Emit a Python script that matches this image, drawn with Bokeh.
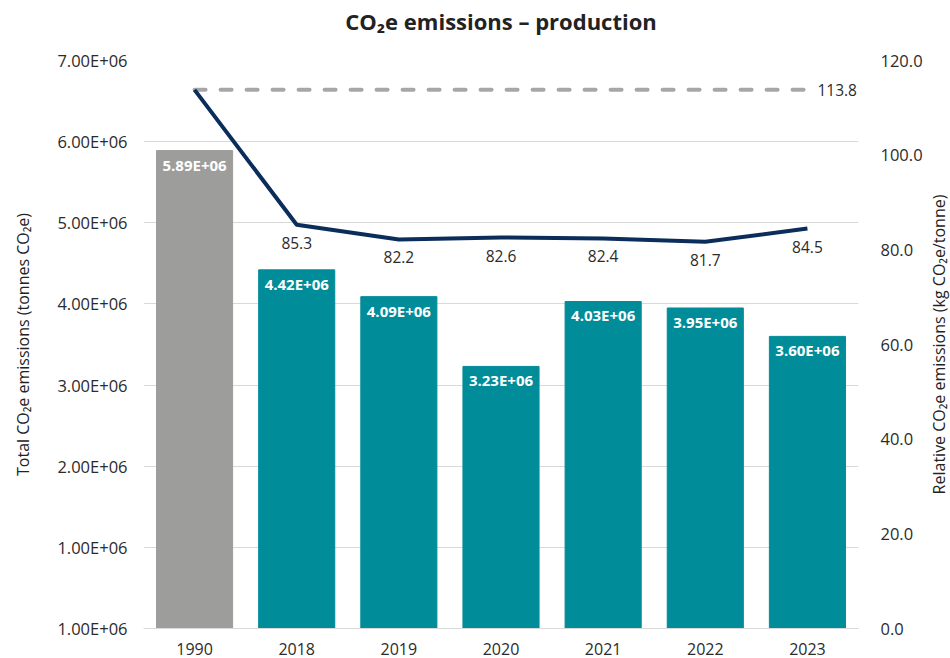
import math
from bokeh.plotting import figure
from bokeh.layouts import row, column
from bokeh.models import (Range1d, LinearAxis, FixedTicker, ColumnDataSource,
                          FactorRange, NumeralTickFormatter)
from bokeh.core.properties import value
from bokeh.embed import file_html
from bokeh.resources import INLINE

years = ["1990", "2018", "2019", "2020", "2021", "2022", "2023"]
total_emissions = [5.89e6, 4.42e6, 4.09e6, 3.23e6, 4.03e6, 3.95e6, 3.60e6]
relative_emissions = [113.8, 85.3, 82.2, 82.6, 82.4, 81.7, 84.5]
baseline_1990 = 113.8
left_ticks = [0, 1e6, 2e6, 3e6, 4e6, 5e6, 6e6, 7e6]
left_tick_labels = ["1.00E+06", "1.00E+06", "2.00E+06", "3.00E+06", "4.00E+06",
                    "5.00E+06", "6.00E+06", "7.00E+06"]
right_ticks = [0, 20, 40, 60, 80, 100, 120]
chart_title = "CO\u2082e emissions \u2013 production"
left_axis_title = "Total CO\u2082e emissions (tonnes CO\u2082e)"
right_axis_title = "Relative CO\u2082e emissions (kg CO\u2082e/tonne)"

FONT = "Open Sans"
TEAL = "#008C99"
GREY = "#9D9D9C"
NAVY = "#0A2D5A"
TXT = "#2b2b2b"

W, H = 950, 658
TITLE_H = 40
SIDE_W = 24
BORDER_L, BORDER_R = 143, 92
BORDER_T, BORDER_B = 20, 30

bar_colors = [GREY] + [TEAL] * (len(years) - 1)
bar_src = ColumnDataSource(dict(
    x=years, top=total_emissions, color=bar_colors,
    label=[f"{v:.2E}" for v in total_emissions]))
line_src = ColumnDataSource(dict(x=years, y=relative_emissions))
line_lbl_src = ColumnDataSource(dict(
    x=years[1:], y=relative_emissions[1:],
    label=[f"{v:.1f}" for v in relative_emissions[1:]]))

# title strip, its frame aligned with the plot area so the title is centred over it
top = figure(width=W, height=TITLE_H, x_range=Range1d(0, 1), y_range=Range1d(0, 1),
             output_backend="svg", toolbar_location=None,
             min_border_left=BORDER_L, min_border_right=BORDER_R,
             min_border_top=0, min_border_bottom=0)
top.axis.visible = False
top.grid.grid_line_color = None
top.outline_line_color = None
top.text(x=[0.5], y=[0.5], text=[chart_title], text_align="center",
         text_baseline="middle", text_font=value(FONT), text_font_size="22px",
         text_font_style="bold", text_color="#222222")

p = figure(width=W - SIDE_W, height=H - TITLE_H, x_range=FactorRange(*years),
           y_range=Range1d(0, 7e6), output_backend="svg",
           toolbar_location=None, min_border_left=BORDER_L,
           min_border_right=BORDER_R - SIDE_W,
           min_border_top=BORDER_T, min_border_bottom=BORDER_B)
p.extra_y_ranges = {"rel": Range1d(0, 120)}

p.outline_line_color = None
p.xgrid.grid_line_color = None
p.ygrid.grid_line_color = "#D9D9D9"
p.ygrid.ticker = FixedTicker(ticks=left_ticks)

p.vbar(x="x", top="top", width=0.745, color="color", source=bar_src)
p.text(x="x", y="top", text="label", source=bar_src, text_color="white",
       text_font=value(FONT), text_font_size="15px", text_font_style="bold",
       text_align="center", text_baseline="middle", y_offset=14)

p.line(x=[years[0], years[-1]], y=[baseline_1990, baseline_1990],
       y_range_name="rel", line_color="#A6A6A6", line_width=4,
       line_dash="11 15", line_cap="round")
p.text(x=[years[-1]], y=[baseline_1990], text=[f"{baseline_1990:.1f}"],
       y_range_name="rel", text_color=TXT, text_font=value(FONT),
       text_font_size="15.5px", text_align="left", text_baseline="middle",
       x_offset=10)

p.line(x="x", y="y", source=line_src, y_range_name="rel",
       line_color=NAVY, line_width=4)
p.text(x="x", y="y", text="label", source=line_lbl_src,
       y_range_name="rel", text_color=TXT, text_font=value(FONT),
       text_font_size="15.5px", text_align="center", text_baseline="middle",
       y_offset=18)

# left axis
ya = p.yaxis[0]
ya.ticker = FixedTicker(ticks=left_ticks)
ya.major_label_overrides = {int(t): s for t, s in zip(left_ticks, left_tick_labels)}
ya.axis_label = left_axis_title
ya.axis_label_text_font = FONT
ya.axis_label_text_font_size = "16px"
ya.axis_label_text_font_style = "normal"
ya.axis_label_text_color = "#222222"
ya.axis_label_standoff = 20
ya.major_label_text_font = FONT
ya.major_label_text_font_size = "16.5px"
ya.major_label_text_color = TXT
ya.major_label_standoff = 10
ya.axis_line_color = None
ya.major_tick_line_color = None
ya.minor_tick_line_color = None

ra = LinearAxis(y_range_name="rel", ticker=FixedTicker(ticks=right_ticks))
ra.formatter = NumeralTickFormatter(format="0.0")
ra.major_label_text_font = FONT
ra.major_label_text_font_size = "16.5px"
ra.major_label_text_color = TXT
ra.major_label_standoff = 16
ra.axis_line_color = None
ra.major_tick_line_color = None
ra.minor_tick_line_color = None
p.add_layout(ra, "right")

xa = p.xaxis[0]
xa.axis_line_color = "#D9D9D9"
xa.major_tick_line_color = None
xa.minor_tick_line_color = None
xa.major_label_text_font = FONT
xa.major_label_text_font_size = "16px"
xa.major_label_text_color = TXT
xa.major_label_standoff = 8

# narrow companion panel carrying the right-hand axis title (reads bottom-to-top)
side = figure(width=SIDE_W, height=H - TITLE_H, x_range=Range1d(0, 1),
              y_range=Range1d(0, 1), output_backend="svg", toolbar_location=None,
              min_border_left=0, min_border_right=0,
              min_border_top=BORDER_T, min_border_bottom=BORDER_B)
side.axis.visible = False
side.grid.grid_line_color = None
side.outline_line_color = None
side.text(x=[0.5], y=[0.5], text=[right_axis_title], angle=math.pi / 2,
          text_align="center", text_baseline="middle", text_font=value(FONT),
          text_font_size="16px", text_color="#222222")

layout = column(top, row(p, side, spacing=0), spacing=0)
open("out.html", "w").write(file_html(layout, INLINE))
